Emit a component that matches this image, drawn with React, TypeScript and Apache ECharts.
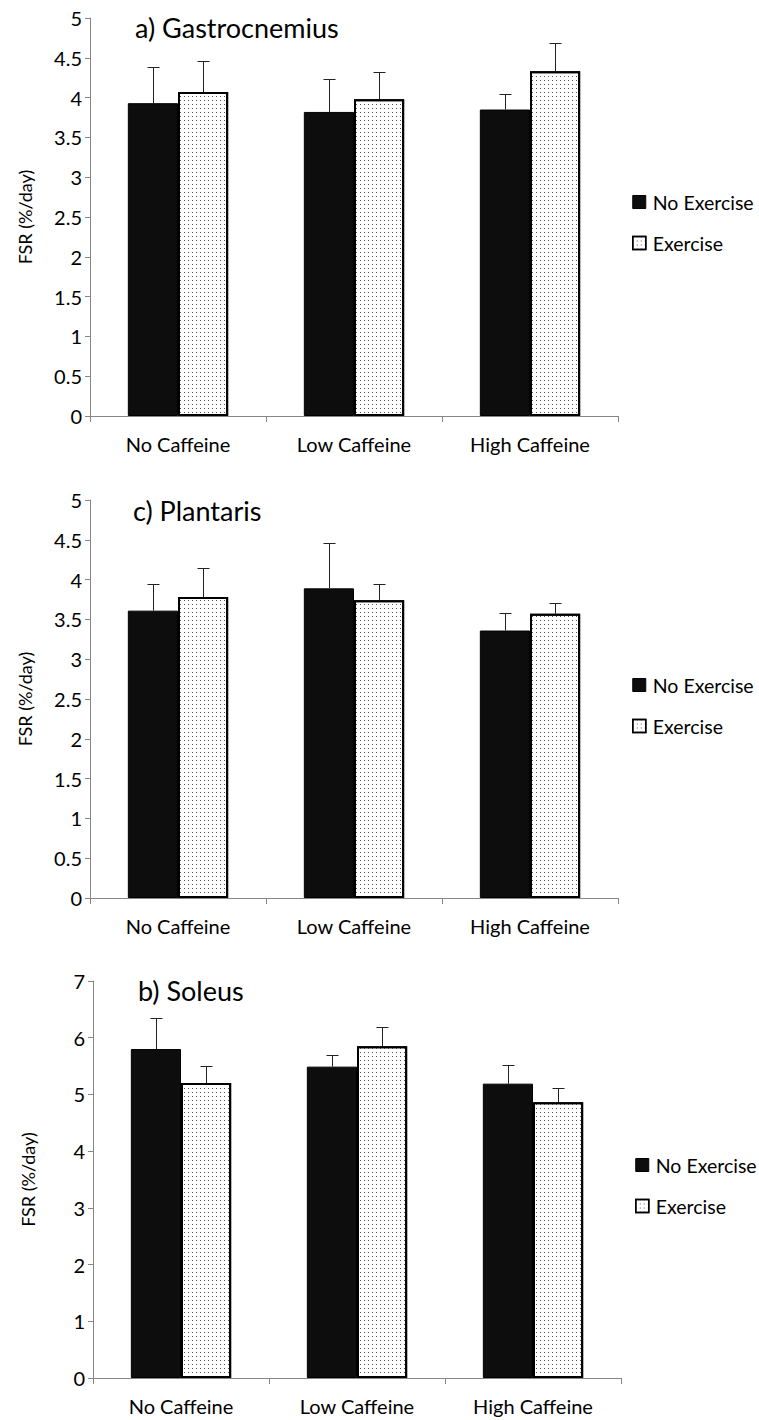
import React, { useEffect, useRef } from 'react';
import * as echarts from 'echarts';

const categories = ['No Caffeine', 'Low Caffeine', 'High Caffeine'];
const seriesNames = ['No Exercise', 'Exercise'];
const panelTitles = ['a) Gastrocnemius', 'c) Plantaris', 'b) Soleus'];
const yAxisName = 'FSR (%/day)';

// Gastrocnemius
const gastroNoEx = [3.93, 3.82, 3.85];
const gastroNoExErr = [0.45, 0.41, 0.2];
const gastroEx = [4.07, 3.98, 4.33];
const gastroExErr = [0.39, 0.34, 0.36];
// Plantaris
const plantNoEx = [3.61, 3.89, 3.36];
const plantNoExErr = [0.33, 0.57, 0.22];
const plantEx = [3.78, 3.74, 3.57];
const plantExErr = [0.36, 0.2, 0.13];
// Soleus
const solNoEx = [5.8, 5.49, 5.19];
const solNoExErr = [0.54, 0.21, 0.33];
const solEx = [5.2, 5.85, 4.86];
const solExErr = [0.3, 0.34, 0.26];

const yMaxes = [5, 5, 7];
const yIntervals = [0.5, 0.5, 1];

const panels = [
  { noEx: gastroNoEx, noExErr: gastroNoExErr, ex: gastroEx, exErr: gastroExErr },
  { noEx: plantNoEx, noExErr: plantNoExErr, ex: plantEx, exErr: plantExErr },
  { noEx: solNoEx, noExErr: solNoExErr, ex: solEx, exErr: solExErr },
];

const FONT = 'Lato, "Open Sans", sans-serif';
const GAP = 0.43;

const grids = [
  { left: 90, top: 18, width: 528, height: 398 },
  { left: 90, top: 500, width: 528, height: 398 },
  { left: 93, top: 981, width: 528, height: 397 },
];
const titlePos = [
  { left: 135, top: 14 },
  { left: 133, top: 497 },
  { left: 138, top: 977 },
];
const legendPos = [
  { left: 632, top: 192 },
  { left: 632, top: 675 },
  { left: 635, top: 1155 },
];

const decal = {
  symbol: 'rect',
  symbolSize: 1,
  color: '#555',
  dashArrayX: [1, 3],
  dashArrayY: [1, 3],
  rotation: 0,
};

export default function App() {
  const ref = useRef<HTMLDivElement>(null);
  useEffect(() => {
    document.body.style.margin = '0';
    const chart = echarts.init(ref.current!, null, { renderer: 'svg' });
    const series: any[] = [];
    panels.forEach((p, i) => {
      series.push({
        type: 'bar',
        name: seriesNames[0],
        xAxisIndex: i,
        yAxisIndex: i,
        data: p.noEx,
        barGap: '0%',
        barCategoryGap: GAP * 100 + '%',
        itemStyle: { color: '#0d0d0d', borderColor: '#000', borderWidth: 1 },
      });
      series.push({
        type: 'bar',
        name: seriesNames[1],
        xAxisIndex: i,
        yAxisIndex: i,
        data: p.ex,
        barGap: '0%',
        barCategoryGap: GAP * 100 + '%',
        itemStyle: { color: '#fff', borderColor: '#000', borderWidth: 2, decal },
      });
      const errData: number[][] = [];
      p.noEx.forEach((v, k) => errData.push([k, v, p.noExErr[k], -1]));
      p.ex.forEach((v, k) => errData.push([k, v, p.exErr[k], 1]));
      series.push({
        type: 'custom',
        name: 'err' + i,
        xAxisIndex: i,
        yAxisIndex: i,
        z: 5,
        encode: { x: 0, y: 1 },
        data: errData,
        renderItem: (params: any, api: any) => {
          const ci = api.value(0);
          const mean = api.value(1);
          const err = api.value(2);
          const side = api.value(3);
          const base = api.coord([ci, mean]);
          const top = api.coord([ci, mean + err]);
          const band = api.size([1, 0])[0];
          const barW = (band * (1 - GAP)) / 2;
          const x = Math.round(base[0] + (side * barW) / 2) + 0.5;
          const ty = Math.round(top[1]) + 0.5;
          return {
            type: 'group',
            children: [
              { type: 'line', shape: { x1: x, y1: base[1], x2: x, y2: ty }, style: { stroke: '#222', lineWidth: 1 } },
              { type: 'line', shape: { x1: x - 6, y1: ty, x2: x + 6, y2: ty }, style: { stroke: '#222', lineWidth: 1 } },
            ],
          };
        },
      });
    });

    const option: any = {
      animation: false,
      backgroundColor: '#fff',
      textStyle: { fontFamily: FONT },
      title: panelTitles.map((t, i) => ({
        text: t,
        left: titlePos[i].left,
        top: titlePos[i].top,
        padding: 0,
        textStyle: { fontFamily: FONT, fontSize: 27, fontWeight: 'normal', color: '#000' },
      })),
      legend: legendPos.map((lp) => ({
        orient: 'vertical',
        left: lp.left,
        top: lp.top,
        itemWidth: 13,
        itemHeight: 13,
        itemGap: 21,
        padding: 0,
        selectedMode: false,
        textStyle: { fontFamily: FONT, fontSize: 19.5, lineHeight: 16, color: '#000', padding: [0, 0, 0, 2] },
        data: [
          { name: seriesNames[0], icon: 'rect', itemStyle: { color: '#0d0d0d', borderColor: '#000', borderWidth: 1 } },
          { name: seriesNames[1], icon: 'rect', itemStyle: { color: '#fff', borderColor: '#000', borderWidth: 1.5, decal } },
        ],
      })),
      grid: grids.map((g) => ({ ...g, containLabel: false })),
      xAxis: grids.map((_, i) => ({
        type: 'category',
        gridIndex: i,
        data: categories,
        axisLine: { lineStyle: { color: '#868686', width: 1 } },
        axisTick: { show: true, length: 6, lineStyle: { color: '#868686' } },
        axisLabel: { fontFamily: FONT, fontSize: 20, color: '#000', margin: 18 },
        splitLine: { show: false },
      })),
      yAxis: grids.map((_, i) => ({
        type: 'value',
        gridIndex: i,
        min: 0,
        max: yMaxes[i],
        interval: yIntervals[i],
        name: yAxisName,
        nameLocation: 'middle',
        nameGap: 56,
        nameTextStyle: { fontFamily: FONT, fontSize: 18, color: '#000' },
        axisLine: { show: true, lineStyle: { color: '#868686', width: 1 } },
        axisTick: { show: true, length: 5, lineStyle: { color: '#868686' } },
        axisLabel: { fontFamily: FONT, fontSize: 20, color: '#000', margin: 8 },
        splitLine: { show: false },
      })),
      series,
    };
    chart.setOption(option);
    return () => chart.dispose();
  }, []);
  return <div ref={ref} style={{ width: 759, height: 1420 }} />;
}
